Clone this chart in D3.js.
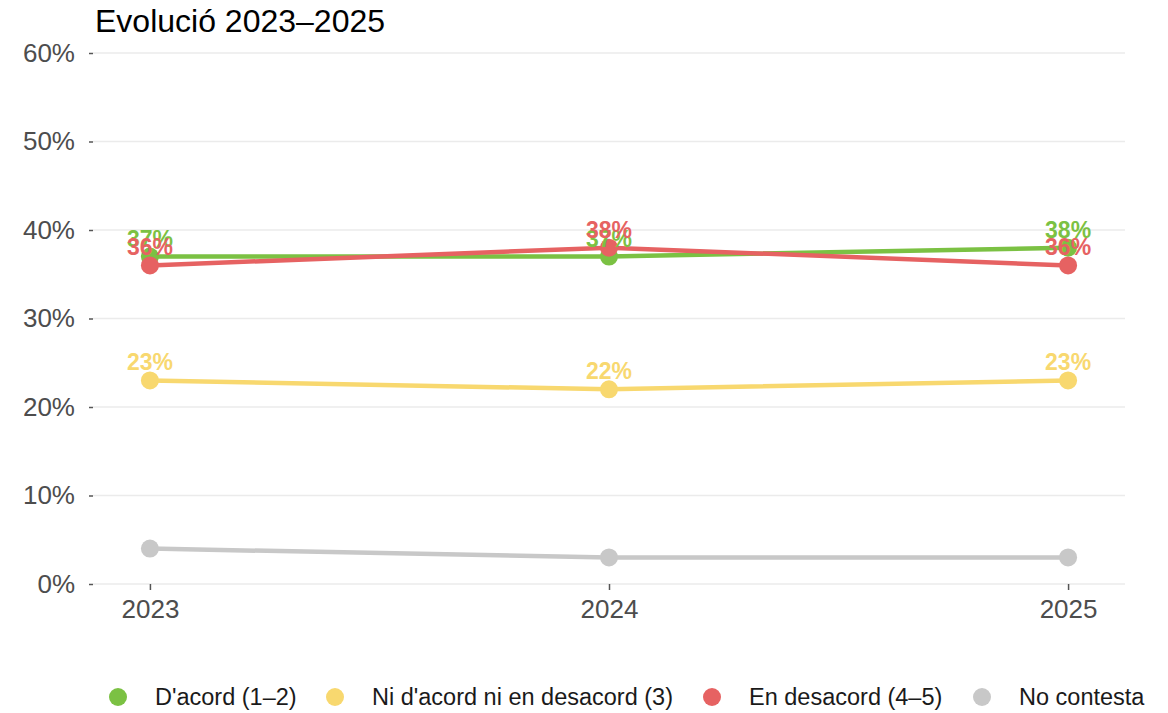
<!DOCTYPE html>
<html><head><meta charset="utf-8">
<script src="https://cdn.jsdelivr.net/npm/d3@7"></script>
<style>body{margin:0;background:#fff;font-family:"Liberation Sans",Arial,sans-serif}</style>
</head><body><svg id="c" width="1168" height="713"></svg>
<script>
const years = [2023, 2024, 2025];
const seriesNames = ["D'acord (1–2)", "Ni d'acord ni en desacord (3)", "En desacord (4–5)", "No contesta"];
const acord = [37, 37, 38];
const neutral = [23, 22, 23];
const desacord = [36, 38, 36];
const noContesta = [4, 3, 3];
const colors = ["#7bc143", "#f8d86f", "#e66262", "#c8c8c8"];
const showLabels = [true, true, true, false];
const yTicks = [0, 10, 20, 30, 40, 50, 60];
const title = "Evolució 2023–2025";

const values = [acord, neutral, desacord, noContesta];
const svg = d3.select("#c");
const x = d3.scaleLinear().domain([2022.876, 2025.124]).range([93, 1125]);
const y = d3.scaleLinear().domain([0, 60]).range([584, 53]);

// grid
svg.append("g").selectAll("line").data(yTicks).join("line")
  .attr("x1", 93).attr("x2", 1125).attr("y1", d => y(d)).attr("y2", d => y(d))
  .attr("stroke", "#ebebeb").attr("stroke-width", 1.5);

const yAxis = svg.append("g").attr("transform", "translate(93,0)")
  .call(d3.axisLeft(y).tickValues(yTicks).tickFormat(d => d + "%").tickSize(4).tickPadding(14));
yAxis.select(".domain").remove();
yAxis.selectAll("line").attr("stroke", "#555").attr("stroke-width", 1.5);
yAxis.selectAll("text").attr("fill", "#4d4d4d").attr("font-size", 26).attr("font-family", "Liberation Sans, Arial, sans-serif");

const xAxis = svg.append("g").attr("transform", "translate(0,584)")
  .call(d3.axisBottom(x).tickValues(years).tickFormat(d3.format("d")).tickSize(6).tickPadding(10));
xAxis.select(".domain").remove();
xAxis.selectAll("line").attr("stroke", "#555").attr("stroke-width", 1.5);
xAxis.selectAll("text").attr("fill", "#4d4d4d").attr("font-size", 26).attr("font-family", "Liberation Sans, Arial, sans-serif");

const line = d3.line().x((d, i) => x(years[i])).y(d => y(d));
const order = [3, 0, 1, 2];
order.forEach(s => {
  svg.append("path").attr("d", line(values[s])).attr("fill", "none")
    .attr("stroke", colors[s]).attr("stroke-width", 4.5);
  svg.append("g").selectAll("circle").data(values[s]).join("circle")
    .attr("cx", (d, i) => x(years[i])).attr("cy", d => y(d)).attr("r", 9)
    .attr("fill", colors[s]);
});
order.forEach(s => {
  if (!showLabels[s]) return;
  svg.append("g").selectAll("text").data(values[s]).join("text")
    .attr("x", (d, i) => x(years[i])).attr("y", d => y(d) - 10)
    .attr("text-anchor", "middle").attr("font-size", 23).attr("font-weight", "bold")
    .attr("fill", colors[s]).text(d => d + "%");
});

svg.append("text").attr("x", 95).attr("y", 32).attr("font-size", 32).attr("fill", "#000").text(title);

// legend
const legX = [118, 335, 712, 982];
const lg = svg.append("g");
seriesNames.forEach((n, i) => {
  lg.append("circle").attr("cx", legX[i]).attr("cy", 697).attr("r", 9).attr("fill", colors[i]);
  lg.append("text").attr("x", legX[i] + 37).attr("y", 705).attr("font-size", 23.5).attr("fill", "#1a1a1a").text(n);
});
</script></body></html>
